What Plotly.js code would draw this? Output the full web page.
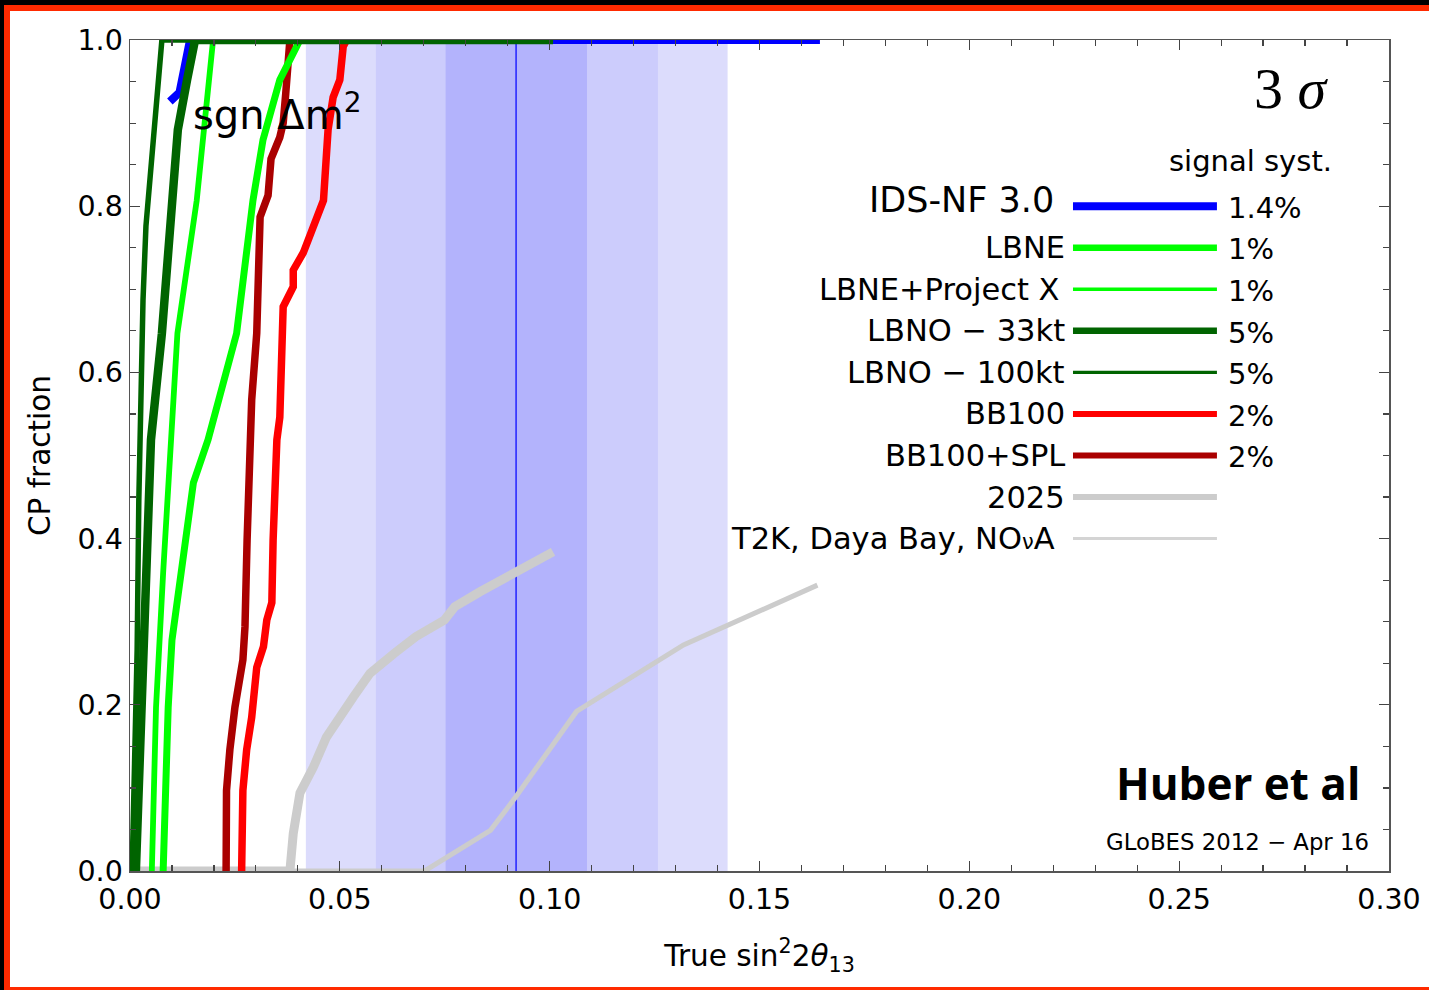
<!DOCTYPE html>
<html><head><meta charset="utf-8">
<script src="https://cdn.plot.ly/plotly-3.0.1.min.js"></script>
<style>
body{margin:0;background:#fff;overflow:hidden}
#chart{width:1429px;height:990px;position:absolute;left:0;top:0}
.bar{position:absolute;pointer-events:none}
</style>
</head><body>
<div id="chart"></div>
<div class="bar" style="left:0;top:0;width:1429px;height:5px;background:#000"></div>
<div class="bar" style="left:0;top:5px;width:1429px;height:6px;background:#ff2a00"></div>
<div class="bar" style="left:0;top:0;width:4px;height:990px;background:#000"></div>
<div class="bar" style="left:4px;top:5px;width:6px;height:985px;background:#ff2a00"></div>
<div class="bar" style="left:4px;top:987px;width:1425px;height:3px;background:#ff2a00"></div>
<script>
// ---- data ----
const idsX   = [0.0095, 0.0118, 0.0143, 0.1644];
const idsY   = [0.926, 0.937, 1.0, 1.0];

const lbneX  = [0.0079,0.0083,0.0091,0.0100,0.0123,0.0151,0.0186,0.0254,0.0293,0.0317,0.0357,0.0398,0.0405,0.1008];
const lbneY  = [0,0.097,0.197,0.278,0.359,0.467,0.519,0.647,0.807,0.880,0.952,0.996,1.0,1.0];

const lbnePxX = [0.0052,0.0057,0.0062,0.0079,0.0097,0.0113,0.0159,0.0179,0.0198,0.1008];
const lbnePxY = [0,0.097,0.197,0.359,0.512,0.647,0.807,0.904,1.0,1.0];

const lbno33X = [0.0014,0.0019,0.0026,0.0036,0.0050,0.0076,0.0103,0.0114,0.0136,0.0155,0.1008];
const lbno33Y = [0,0.077,0.197,0.359,0.519,0.647,0.807,0.892,0.952,1.0,1.0];

const lbno100X = [0.0005,0.00095,0.0017,0.0021,0.0026,0.0031,0.0038,0.0056,0.0076,0.1008];
const lbno100Y = [0,0.11,0.266,0.446,0.567,0.687,0.776,0.892,1.0,1.0];

const bb100X = [0.0266,0.0269,0.0278,0.0290,0.0302,0.0318,0.0326,0.0338,0.0341,0.0350,0.0357,0.0365,0.0389,0.0389,0.0413,0.0461,0.0472,0.0484,0.0500,0.0508,0.0516,0.1008];
const bb100Y = [0,0.097,0.146,0.185,0.245,0.270,0.302,0.323,0.398,0.519,0.546,0.679,0.703,0.723,0.744,0.807,0.892,0.931,0.952,0.992,1.0,1.0];

const bbSplX = [0.0229,0.0230,0.0238,0.0250,0.0269,0.0274,0.0279,0.0290,0.0290,0.0302,0.0305,0.0310,0.0329,0.0336,0.0357,0.0365,0.0371,0.0375,0.0381,0.1008];
const bbSplY = [0,0.097,0.146,0.197,0.254,0.294,0.398,0.519,0.567,0.647,0.735,0.787,0.813,0.857,0.883,0.900,0.935,0.975,1.0,1.0];

const y2025X = [0,0.0381,0.0389,0.0405,0.0437,0.0468,0.0533,0.0572,0.0630,0.0681,0.0749,0.0774,0.0834,0.0919,0.0944,0.1008];
const y2025Y = [0,0,0.045,0.094,0.125,0.161,0.210,0.238,0.262,0.282,0.302,0.318,0.336,0.358,0.366,0.384];

const t2kX = [0,0.0702,0.0859,0.0919,0.1064,0.1319,0.1638];
const t2kY = [0,0,0.049,0.089,0.192,0.272,0.344];

// theta13 best fit and 1/2/3 sigma bands
const th13Best = 0.092;
const bandLow  = [0.0419, 0.0586, 0.0752];
const bandHigh = [0.1424, 0.1258, 0.1089];

// legend
const legNames = ['IDS-NF 3.0','LBNE','LBNE+Project X','LBNO − 33kt','LBNO − 100kt','BB100','BB100+SPL','2025','T2K, Daya Bay, NO<span style="font-size:21px">ν</span>A'];
const legSyst  = ['1.4%','1%','1%','5%','5%','2%','2%','',''];
const legRows  = [0.80,0.75,0.70,0.65,0.60,0.55,0.50,0.45,0.40];
const legLineX = [0.2247, 0.2590];

const xTickVals = [0,0.05,0.10,0.15,0.20,0.25,0.30];
const yTickVals = [0,0.2,0.4,0.6,0.8,1.0];

// ---- styles ----
const DG = '#006400', BG = '#00ff00', BL = '#0000ff', RD = '#ff0000', DR = '#aa0000', GR = '#cccccc';
const legColor = [BL,BG,BG,DG,DG,RD,DR,GR,'#d4d4d4'];
const legWidth = [8,6.5,3.5,6.5,3.2,6,6,6,3];
const F = 'DejaVu Sans';

function tr(x,y,color,width,clip){
  return {x:x,y:y,type:'scatter',mode:'lines',line:{color:color,width:width,shape:'linear'},
          hoverinfo:'skip',showlegend:false,cliponaxis:clip};
}
const traces = [
  tr(t2kX,t2kY,GR,5,true),
  tr(y2025X,y2025Y,GR,9,true),
  tr(idsX,idsY,BL,8,false),
  tr(bb100X,bb100Y,RD,7.5,false),
  tr(bbSplX,bbSplY,DR,7.5,false),
  tr(lbneX,lbneY,BG,7,false),
  tr(lbnePxX,lbnePxY,BG,5.8,false),
  tr(lbno100X,lbno100Y,DG,5.5,false),
  tr(lbno33X,lbno33Y,DG,8.5,false)
];

const bandColors = ['#dcdcfc','#ccccfc','#b3b3fc'];
const shapes = [];
for(let i=0;i<bandLow.length;i++){
  shapes.push({type:'rect',xref:'x',yref:'y',x0:bandLow[i],x1:bandHigh[i],y0:0,y1:1,
               fillcolor:bandColors[i],line:{width:0},layer:'below'});
}
shapes.push({type:'line',xref:'x',yref:'y',x0:th13Best,x1:th13Best,y0:0,y1:1,
             line:{color:'#2a2aff',width:1.6},layer:'below'});
for(let i=0;i<legRows.length;i++){
  shapes.push({type:'line',xref:'x',yref:'y',x0:legLineX[0],x1:legLineX[1],y0:legRows[i],y1:legRows[i],
               line:{color:legColor[i],width:legWidth[i]}});
}

const annotations = [];
function ann(text,x,y,xa,size,extra){
  const a = Object.assign({text:text,x:x,y:y,xref:'x',yref:'y',xanchor:xa,yanchor:'middle',showarrow:false,
    font:{family:F,size:size,color:'#000'}},extra||{});
  annotations.push(a);
}
for(let i=0;i<legNames.length;i++){
  let xr = 0.2233, dy = 0, sz = 30.5;
  if(i===0){xr=0.2206; dy=0.007; sz=35;}
  if(i===2){xr=0.2221;}
  if(i===8){xr=0.2210;}
  ann(legNames[i], xr, legRows[i]+dy, 'right', sz);
  if(legSyst[i]) ann(legSyst[i], 0.2612, legRows[i]-0.002, 'left', 29);
}
ann('sgn Δm<sup>2</sup>', 0.0145, 0.913, 'left', 40);
ann('3 <i>σ</i>', 0.2768, 0.942, 'center', 58, {font:{family:'Liberation Serif',size:58,color:'#000'}});
ann('signal syst.', 0.2669, 0.854, 'center', 29);
ann('<b>Huber et al</b>', 0.2936, 0.106, 'right', 44, {font:{family:'Open Sans',size:44,color:'#000'}});
ann('GLoBES 2012 − Apr 16', 0.2957, 0.035, 'right', 22.8);

const axBase = {
  showgrid:false, zeroline:false, showline:true, linecolor:'#555', linewidth:1.5,
  mirror:'allticks', ticks:'inside', ticklen:10, tickwidth:1.3, tickcolor:'#444',
  tickfont:{family:F,size:28.5,color:'#000'}, automargin:false, fixedrange:true
};
const layout = {
  width:1429, height:990,
  margin:{l:130,r:40,t:40,b:119,pad:0},
  paper_bgcolor:'#fff', plot_bgcolor:'#fff',
  showlegend:false,
  xaxis:Object.assign({}, axBase, {
    range:[0,0.30], tickvals:xTickVals, tickformat:'.2f', ticklabelstandoff:2,
    minor:{dtick:0.01, ticks:'inside', ticklen:6, tickcolor:'#444', tickwidth:1.2},
    title:{text:'True sin<sup>2</sup>2<i>θ</i><sub>13</sub>', font:{family:F,size:29.5,color:'#000'}, standoff:30}
  }),
  yaxis:Object.assign({}, axBase, {
    range:[0,1], tickvals:yTickVals, tickformat:'.1f',
    minor:{dtick:0.05, ticks:'inside', ticklen:6, tickcolor:'#444', tickwidth:1.2},
    title:{text:'CP fraction', font:{family:F,size:29.5,color:'#000'}, standoff:18}
  }),
  shapes:shapes,
  annotations:annotations
};
Plotly.newPlot('chart', traces, layout, {staticPlot:true, displayModeBar:false});
</script>
</body></html>
